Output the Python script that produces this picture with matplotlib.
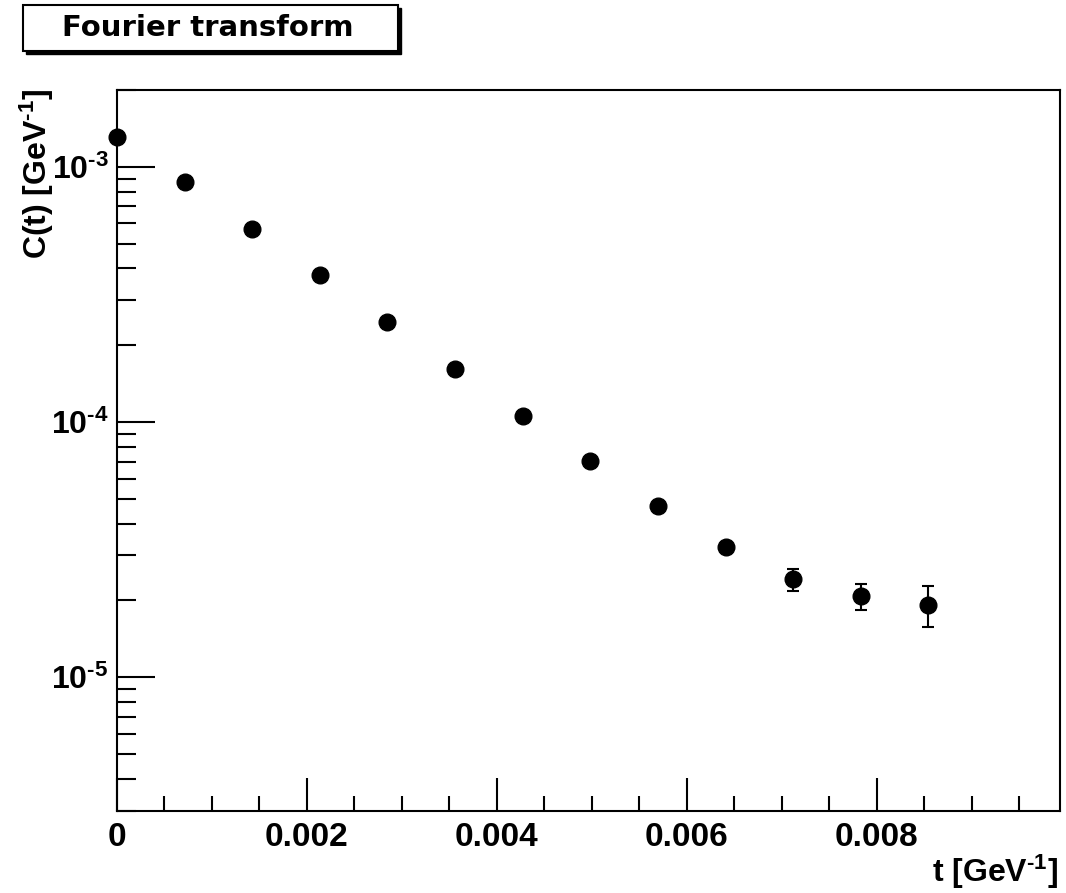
import numpy as np
import matplotlib
matplotlib.use("Agg")
import matplotlib.pyplot as plt
from matplotlib.patches import Rectangle
from matplotlib.ticker import LogLocator, MultipleLocator, FixedLocator, NullFormatter

plt.rcParams['font.family'] = ['Liberation Sans', 'DejaVu Sans']
plt.rcParams['font.weight'] = 'bold'
plt.rcParams['mathtext.fontset'] = 'custom'
plt.rcParams['mathtext.rm'] = 'Liberation Sans:bold'
plt.rcParams['mathtext.it'] = 'Liberation Sans:bold'
plt.rcParams['mathtext.bf'] = 'Liberation Sans:bold'
plt.rcParams['mathtext.default'] = 'rm'

# ---- data ----
title = "Fourier transform"
t_values = [0.0, 0.000712, 0.001424, 0.002136, 0.002848, 0.003560, 0.004272,
            0.004984, 0.005696, 0.006408, 0.007120, 0.007832, 0.008544]
c_values = [1.306e-3, 8.70e-4, 5.73e-4, 3.755e-4, 2.458e-4, 1.609e-4, 1.054e-4,
            7.02e-5, 4.68e-5, 3.235e-5, 2.425e-5, 2.075e-5, 1.922e-5]
c_errors = [1.5e-6, 1.5e-6, 1.5e-6, 1.5e-6, 1.5e-6, 1.5e-6, 1.5e-6,
            1.5e-6, 1.5e-6, 1.5e-6, 2.4e-6, 2.45e-6, 3.5e-6]
x_ticks = [0, 0.002, 0.004, 0.006, 0.008]
x_ticklabels = ["0", "0.002", "0.004", "0.006", "0.008"]
y_ticks = [1e-5, 1e-4, 1e-3]
y_ticklabels = [r"$10^{\text{-}5}$", r"$10^{\text{-}4}$", r"$10^{\text{-}3}$"]
x_label = r"t [GeV$^{\text{-}1}$]"
y_label = r"C(t) [GeV$^{\text{-}1}$]"

W, H = 1066, 893
fig = plt.figure(figsize=(W / 100, H / 100), dpi=100)
ax = fig.add_axes([117 / W, 1 - 810.7 / H, (1060 - 117) / W, (810.7 - 90) / H])

ax.errorbar(t_values, c_values, yerr=c_errors, fmt='o', color='black',
            markersize=12, elinewidth=1.5, capsize=4, capthick=1.5, zorder=3,
            clip_on=False)

ax.set_yscale('log')
ax.set_xlim(0, 0.00993)
ax.set_ylim(3.0e-6, 2.0e-3)

ax.xaxis.set_major_locator(FixedLocator(x_ticks))
ax.set_xticklabels(x_ticklabels)
ax.xaxis.set_minor_locator(MultipleLocator(0.0005))
ax.yaxis.set_major_locator(FixedLocator(y_ticks))
ax.set_yticklabels(y_ticklabels)
ax.yaxis.set_minor_locator(LogLocator(base=10, subs=np.arange(2, 10), numticks=20))
ax.yaxis.set_minor_formatter(NullFormatter())

for s in ax.spines.values():
    s.set_linewidth(1.5)

ax.tick_params(axis='both', which='both', direction='in', top=False, right=False,
               width=1.5)
ax.tick_params(axis='x', which='major', length=24, pad=8, labelsize=24)
ax.tick_params(axis='x', which='minor', length=11)
ax.tick_params(axis='y', which='major', length=27, pad=6, labelsize=23)
ax.tick_params(axis='y', which='minor', length=14)
for lab in ax.get_xticklabels() + ax.get_yticklabels():
    lab.set_fontweight('bold')

fig.text(1058 / W, 1 - 872 / H, x_label, ha='right', va='center', fontsize=23,
         fontweight='bold')
fig.text(37 / W, 1 - 88 / H, y_label, ha='center', va='top', rotation=90,
         fontsize=23, fontweight='bold')

# title box with shadow (ROOT style)
bx0, by0, bx1, by1 = 22.7, 5, 398, 50.5
shadow = Rectangle(((bx0 + 3) / W, 1 - (by1 + 3) / H), (bx1 - bx0) / W, (by1 - by0) / H,
                   transform=fig.transFigure, facecolor='black', edgecolor='black',
                   linewidth=1.0, zorder=1)
box = Rectangle((bx0 / W, 1 - by1 / H), (bx1 - bx0) / W, (by1 - by0) / H,
                transform=fig.transFigure, facecolor='white', edgecolor='black',
                linewidth=1.5, zorder=2)
fig.patches.extend([shadow, box])
fig.text(208 / W, 1 - 28 / H, title, ha='center', va='center', fontsize=21,
         fontweight='bold', family=['DejaVu Sans'], zorder=3)

fig.savefig("out.png", dpi=100)
